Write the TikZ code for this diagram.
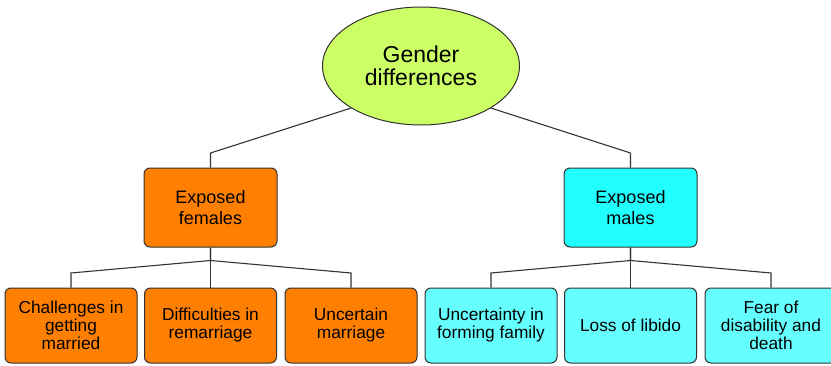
\documentclass[tikz,border=0pt]{standalone}
\usepackage{fontspec}
\setmainfont{Liberation Sans}
\usetikzlibrary{shapes.geometric}
\definecolor{rootfill}{RGB}{204,255,102}
\definecolor{femfill}{RGB}{255,128,0}
\definecolor{malfill}{RGB}{34,255,255}
\definecolor{malsub}{RGB}{102,255,255}
\definecolor{edgegray}{RGB}{51,51,51}
\tikzset{
  box/.style={draw=edgegray,line width=1pt,rounded corners=6pt,minimum width=132pt,minimum height=75pt,inner sep=2pt,align=center,font=\fontsize{17.3}{18}\selectfont},
  link/.style={draw=edgegray,line width=1.1pt}
}
\begin{document}
\begin{tikzpicture}[x=1pt,y=1pt]
\useasboundingbox (0,0) rectangle (831,365);
\node[ellipse,draw=edgegray,line width=1pt,fill=rootfill,minimum width=197pt,minimum height=118pt,align=center,font=\fontsize{23}{23.5}\selectfont] (root) at (421,299) {Gender\\differences};
\node[box,fill=femfill,minimum width=133pt,minimum height=79pt,font=\fontsize{18}{20.5}\selectfont] (fem) at (210.5,157.5) {Exposed\\females};
\node[box,fill=malfill,minimum width=133pt,minimum height=79pt,font=\fontsize{18}{20.5}\selectfont] (mal) at (630.5,157.5) {Exposed\\males};
\foreach \n/\x/\t in {f1/71/{Challenges in\\getting\\married},f2/210.5/{Difficulties in\\remarriage},f3/351/{Uncertain\\marriage}}
  \node[box,fill=femfill] (\n) at (\x,39.5) {\t};
\foreach \n/\x/\t in {m1/491/{Uncertainty in\\forming family},m2/630.5/{Loss of libido},m3/771/{Fear of\\disability and\\death}}
  \node[box,fill=malsub] (\n) at (\x,39.5) {\t};
\draw[link] (root.south west) -- (fem.north |- 0,212) -- (fem.north);
\draw[link] (root.south east) -- (mal.north |- 0,212) -- (mal.north);
\foreach \c in {f1,f2,f3} \draw[link] (fem.south) -- ++(0,-13) -- (\c.north |- 0,92) -- (\c.north);
\foreach \c in {m1,m2,m3} \draw[link] (mal.south) -- ++(0,-13) -- (\c.north |- 0,92) -- (\c.north);
\end{tikzpicture}
\end{document}
